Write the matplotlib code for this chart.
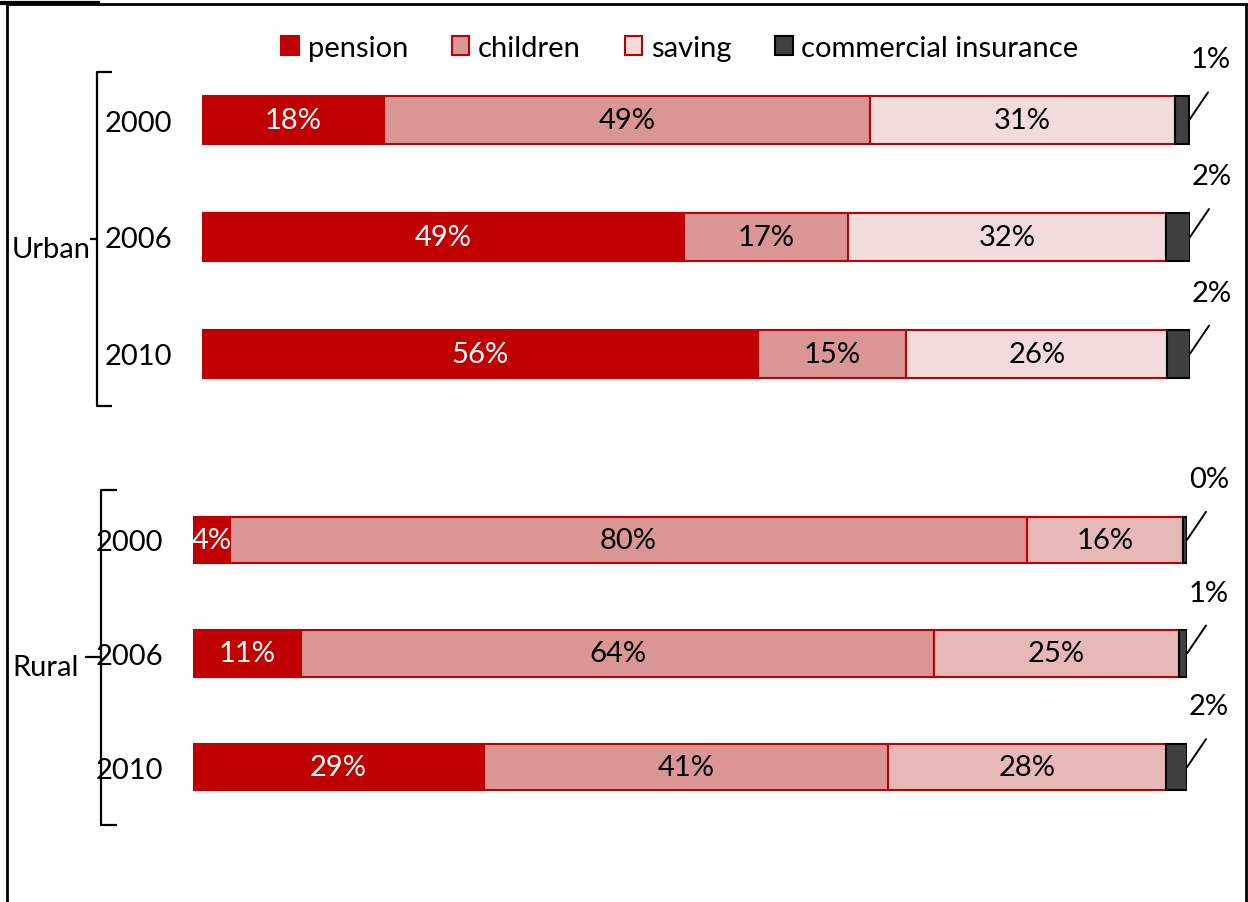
import numpy as np
import matplotlib.pyplot as plt
from matplotlib.lines import Line2D

plt.rcParams['font.family'] = ['Lato', 'DejaVu Sans']

years = ['2000', '2006', '2010']
categories = ['pension', 'children', 'saving', 'commercial insurance']

# shares in percent
urban_pension = [18.4, 48.8, 56.3]
urban_children = [49.2, 16.6, 15.0]
urban_saving = [30.9, 32.2, 26.4]
urban_commercial = [1.4, 2.4, 2.3]

rural_pension = [3.7, 10.9, 29.3]
rural_children = [80.2, 63.6, 40.6]
rural_saving = [15.7, 24.7, 28.0]
rural_commercial = [0.4, 0.8, 2.1]

RED = '#C00000'
PINK = '#DA9694'
URBAN_SAVE = '#F2DCDB'
RURAL_SAVE = '#E6B9B8'
DARK = '#404040'
FS = 21

W, H = 1248, 903
fig = plt.figure(figsize=(W / 100, H / 100), dpi=100)


def stacked(ax, series, save_color):
    colors = [RED, PINK, save_color, DARK]
    edges = [RED, RED, RED, 'black']
    txt = ['white', 'black', 'black', 'black']
    y = np.arange(len(years))
    left = np.zeros(len(years))
    handles = []
    for k, vals in enumerate(series):
        vals = np.array(vals)
        bars = ax.barh(y, vals, left=left, height=0.41, color=colors[k],
                       edgecolor=edges[k], linewidth=1.5, label=categories[k])
        handles.append(bars)
        labels = ['{:.0f}%'.format(v) for v in vals]
        if k < 3:
            ax.bar_label(bars, labels=labels, label_type='center',
                         color=txt[k], fontsize=FS)
        else:
            for yi, lab, l, v in zip(y, labels, left, vals):
                end = l + v
                ax.annotate('', xy=(end, yi), xytext=(19, 28),
                            textcoords='offset pixels',
                            arrowprops=dict(arrowstyle='-', lw=1.4,
                                            color='black', shrinkA=0, shrinkB=0))
                ax.annotate(lab, xy=(end, yi), xytext=(22, 61),
                            textcoords='offset pixels', ha='center',
                            va='center', fontsize=FS, annotation_clip=False)
        left = left + vals
    ax.set_xlim(0, left.max())
    ax.set_ylim(2.5, -0.5)
    ax.set_yticks(y, years)
    ax.tick_params(axis='y', length=0, pad=21.6, labelsize=FS)
    ax.set_xticks([])
    for s in ax.spines.values():
        s.set_visible(False)
    return handles


ax1 = fig.add_axes([202 / W, (H - 413) / H, 988 / W, 350 / H])
handles = stacked(ax1, [urban_pension, urban_children, urban_saving, urban_commercial], URBAN_SAVE)

ax2 = fig.add_axes([193 / W, (H - 825) / H, 994 / W, 341 / H])
stacked(ax2, [rural_pension, rural_children, rural_saving, rural_commercial], RURAL_SAVE)

fig.legend(handles=handles, loc='center', bbox_to_anchor=(680 / W, 1 - 49 / H),
           ncol=4, frameon=False, fontsize=FS, handlelength=0.6, handleheight=0.6,
           handletextpad=0.3, columnspacing=1.5, borderaxespad=0)

# overlay for frame, brackets and group names
ov = fig.add_axes([0, 0, 1, 1], zorder=-1)
ov.set_xlim(0, W)
ov.set_ylim(H, 0)
ov.axis('off')


def line(xs, ys, lw=2):
    ov.add_line(Line2D(xs, ys, color='black', lw=lw, solid_capstyle='butt'))


line([7, 7], [5, H])
line([7, W], [5, 5])
line([0, 100], [4, 4], lw=3)
line([1246, 1246], [5, H])

# brackets
line([112, 97, 97, 112], [73, 73, 407, 407], lw=1.6)
line([90, 97], [240, 240], lw=1.6)
line([117, 101, 101, 117], [491, 491, 826, 826], lw=1.6)
line([85, 101], [658, 658], lw=1.6)

ov.text(12, 250, 'Urban', fontsize=FS, ha='left', va='center')
ov.text(12, 668, 'Rural', fontsize=FS, ha='left', va='center')

fig.savefig('out.png', dpi=100)
